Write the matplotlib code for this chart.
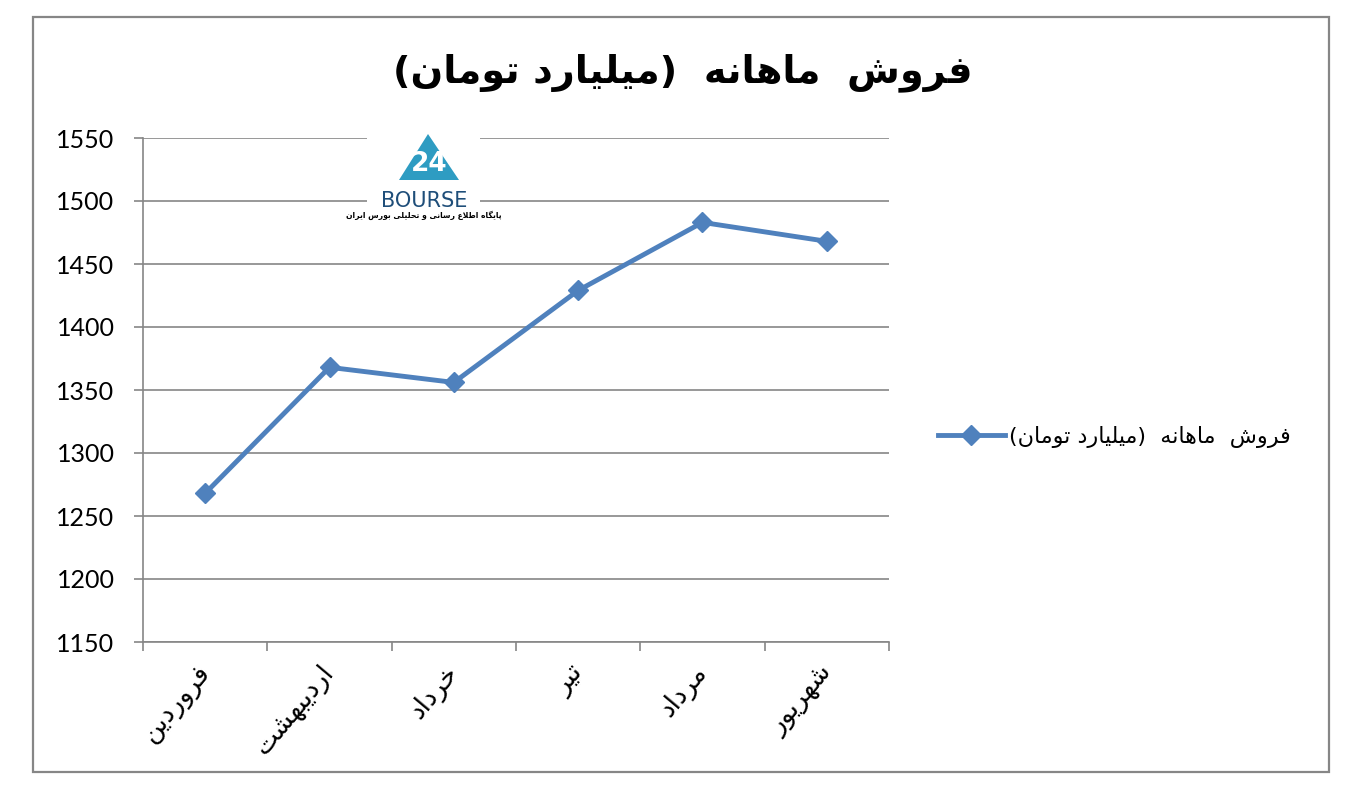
import matplotlib
matplotlib.use("Agg")
import matplotlib.pyplot as plt
from matplotlib.patches import Rectangle, Polygon
from matplotlib.font_manager import findfont, FontProperties
from matplotlib.ft2font import FT2Font
import numpy as np

# data
MONTHS = ["فروردین", "اردیبهشت", "خرداد", "تیر", "مرداد", "شهریور"]
SALES  = [1268, 1368, 1356, 1429, 1483, 1468]
Y_TICKS = [1150, 1200, 1250, 1300, 1350, 1400, 1450, 1500, 1550]
TITLE  = "فروش  ماهانه  (میلیارد تومان)"
SERIES = "فروش  ماهانه  (میلیارد تومان)"
LOGO_LINE = "پایگاه اطلاع رسانی و تحلیلی بورس ایران"

BLUE = "#4F81BD"
GRID = "#868686"
PERSIAN_FONT = ["DejaVu Sans"]
NUM_FONT = ["Lato", "DejaVu Sans"]

# presentation forms: isolated, final, initial, medial
FORMS = {
    "ا": (0xFE8D, 0xFE8E, None, None),
    "ب": (0xFE8F, 0xFE90, 0xFE91, 0xFE92),
    "پ": (0xFB56, 0xFB57, 0xFB58, 0xFB59),
    "ت": (0xFE95, 0xFE96, 0xFE97, 0xFE98),
    "ح": (0xFEA1, 0xFEA2, 0xFEA3, 0xFEA4),
    "خ": (0xFEA5, 0xFEA6, 0xFEA7, 0xFEA8),
    "د": (0xFEA9, 0xFEAA, None, None),
    "ر": (0xFEAD, 0xFEAE, None, None),
    "س": (0xFEB1, 0xFEB2, 0xFEB3, 0xFEB4),
    "ش": (0xFEB5, 0xFEB6, 0xFEB7, 0xFEB8),
    "ط": (0xFEC1, 0xFEC2, 0xFEC3, 0xFEC4),
    "ع": (0xFEC9, 0xFECA, 0xFECB, 0xFECC),
    "ف": (0xFED1, 0xFED2, 0xFED3, 0xFED4),
    "گ": (0xFB92, 0xFB93, 0xFB94, 0xFB95),
    "ل": (0xFEDD, 0xFEDE, 0xFEDF, 0xFEE0),
    "م": (0xFEE1, 0xFEE2, 0xFEE3, 0xFEE4),
    "ن": (0xFEE5, 0xFEE6, 0xFEE7, 0xFEE8),
    "ه": (0xFEE9, 0xFEEA, 0xFEEB, 0xFEEC),
    "و": (0xFEED, 0xFEEE, None, None),
    "ی": (0xFEEF, 0xFEF0, 0xFEF3, 0xFEF4),
}
LAM_ALEF = (0xFEFB, 0xFEFC)

_cmap = FT2Font(findfont(FontProperties(family="DejaVu Sans"))).get_charmap()


def joins_next(c):
    return c in FORMS and FORMS[c][2] is not None


def glyph(code, base):
    return chr(code) if code in _cmap else base


def shape(text):
    # minimal arabic shaping + visual reordering, matplotlib has no bidi
    out = []
    i = 0
    while i < len(text):
        c = text[i]
        prev = text[i - 1] if i > 0 else ""
        if c not in FORMS:
            out.append(c)
            i += 1
            continue
        if c == "ل" and i + 1 < len(text) and text[i + 1] == "ا":
            out.append(glyph(LAM_ALEF[1] if joins_next(prev) else LAM_ALEF[0], "لا"))
            i += 2
            continue
        nxt = text[i + 1] if i + 1 < len(text) else ""
        left = joins_next(prev)
        right = joins_next(c) and nxt in FORMS
        iso, fin, ini, med = FORMS[c]
        if left and right:
            code = med
        elif left:
            code = fin
        elif right:
            code = ini
        else:
            code = iso
        out.append(glyph(code, c))
        i += 1
    vis = "".join(reversed(out))
    return vis.translate(str.maketrans("()", ")("))


W, H = 1351, 797
fig = plt.figure(figsize=(W / 100, H / 100), dpi=100)

# outer chart border
fig.patches.append(Rectangle((33 / W, 1 - 772 / H), (1329 - 33) / W, (772 - 17) / H,
                             transform=fig.transFigure, fill=False,
                             edgecolor=GRID, linewidth=1.6))

fig.text(683 / W, 1 - 73 / H, shape(TITLE), ha="center", va="center",
         fontsize=27.5, fontweight="bold", family=PERSIAN_FONT)

ax = fig.add_axes([143 / W, 1 - 642 / H, (889 - 143) / W, (642 - 138) / H])
x = np.arange(1, len(MONTHS) + 1)
line, = ax.plot(x, SALES, color=BLUE, linewidth=3.5, marker="D",
                markersize=10, markerfacecolor=BLUE, markeredgecolor=BLUE,
                zorder=3)

ax.set_xlim(0.5, len(MONTHS) + 0.5)
ax.set_ylim(Y_TICKS[0], Y_TICKS[-1])
ax.set_yticks(Y_TICKS)
ax.set_yticklabels([str(v) for v in Y_TICKS], fontsize=18, family=NUM_FONT)
ax.yaxis.grid(True, color=GRID, linewidth=1.2)
ax.set_axisbelow(True)

ax.set_xticks(x)
ax.set_xticklabels([shape(m) for m in MONTHS], rotation=50, ha="right", va="center",
                   rotation_mode="anchor", fontsize=19, family=PERSIAN_FONT)
ax.set_xticks(np.arange(0.5, len(MONTHS) + 1), minor=True)
ax.tick_params(axis="x", which="major", length=0, pad=19)
ax.tick_params(axis="x", which="minor", length=6.5, width=1.2, color=GRID)
ax.tick_params(axis="y", length=6.5, width=1.2, color=GRID, pad=14)

for side in ["top", "right"]:
    ax.spines[side].set_visible(False)
for side in ["left", "bottom"]:
    ax.spines[side].set_color(GRID)
    ax.spines[side].set_linewidth(1.2)

# legend on the right
leg = fig.legend([line], [shape(SERIES)], loc="center left",
                 bbox_to_anchor=(918 / W, 1 - 437 / H), frameon=False,
                 prop={"family": PERSIAN_FONT, "size": 16},
                 handlelength=3.0, handletextpad=0.2)

# rough stand-in for the watermark logo
logo = fig.add_axes([367 / W, 1 - 228 / H, 113 / W, 113 / H])
logo.set_xlim(0, 113)
logo.set_ylim(113, 0)
logo.set_xticks([])
logo.set_yticks([])
for s in logo.spines.values():
    s.set_visible(False)
logo.set_facecolor("white")
logo.add_patch(Polygon([[61, 19], [32, 65], [92, 65]], closed=True,
                       facecolor="#2E9CC2", edgecolor="none"))
logo.text(62, 49, "24", ha="center", va="center", color="white",
          fontsize=19, fontweight="bold", family=["DejaVu Sans"])
logo.text(57, 86, "BOURSE", ha="center", va="center", color="#1F4E79",
          fontsize=15, family=["DejaVu Sans"])
logo.text(57, 100, shape(LOGO_LINE), ha="center", va="center", color="black",
          fontsize=5.5, fontweight="bold", family=PERSIAN_FONT)

fig.savefig("out.png", dpi=100, facecolor="white")
